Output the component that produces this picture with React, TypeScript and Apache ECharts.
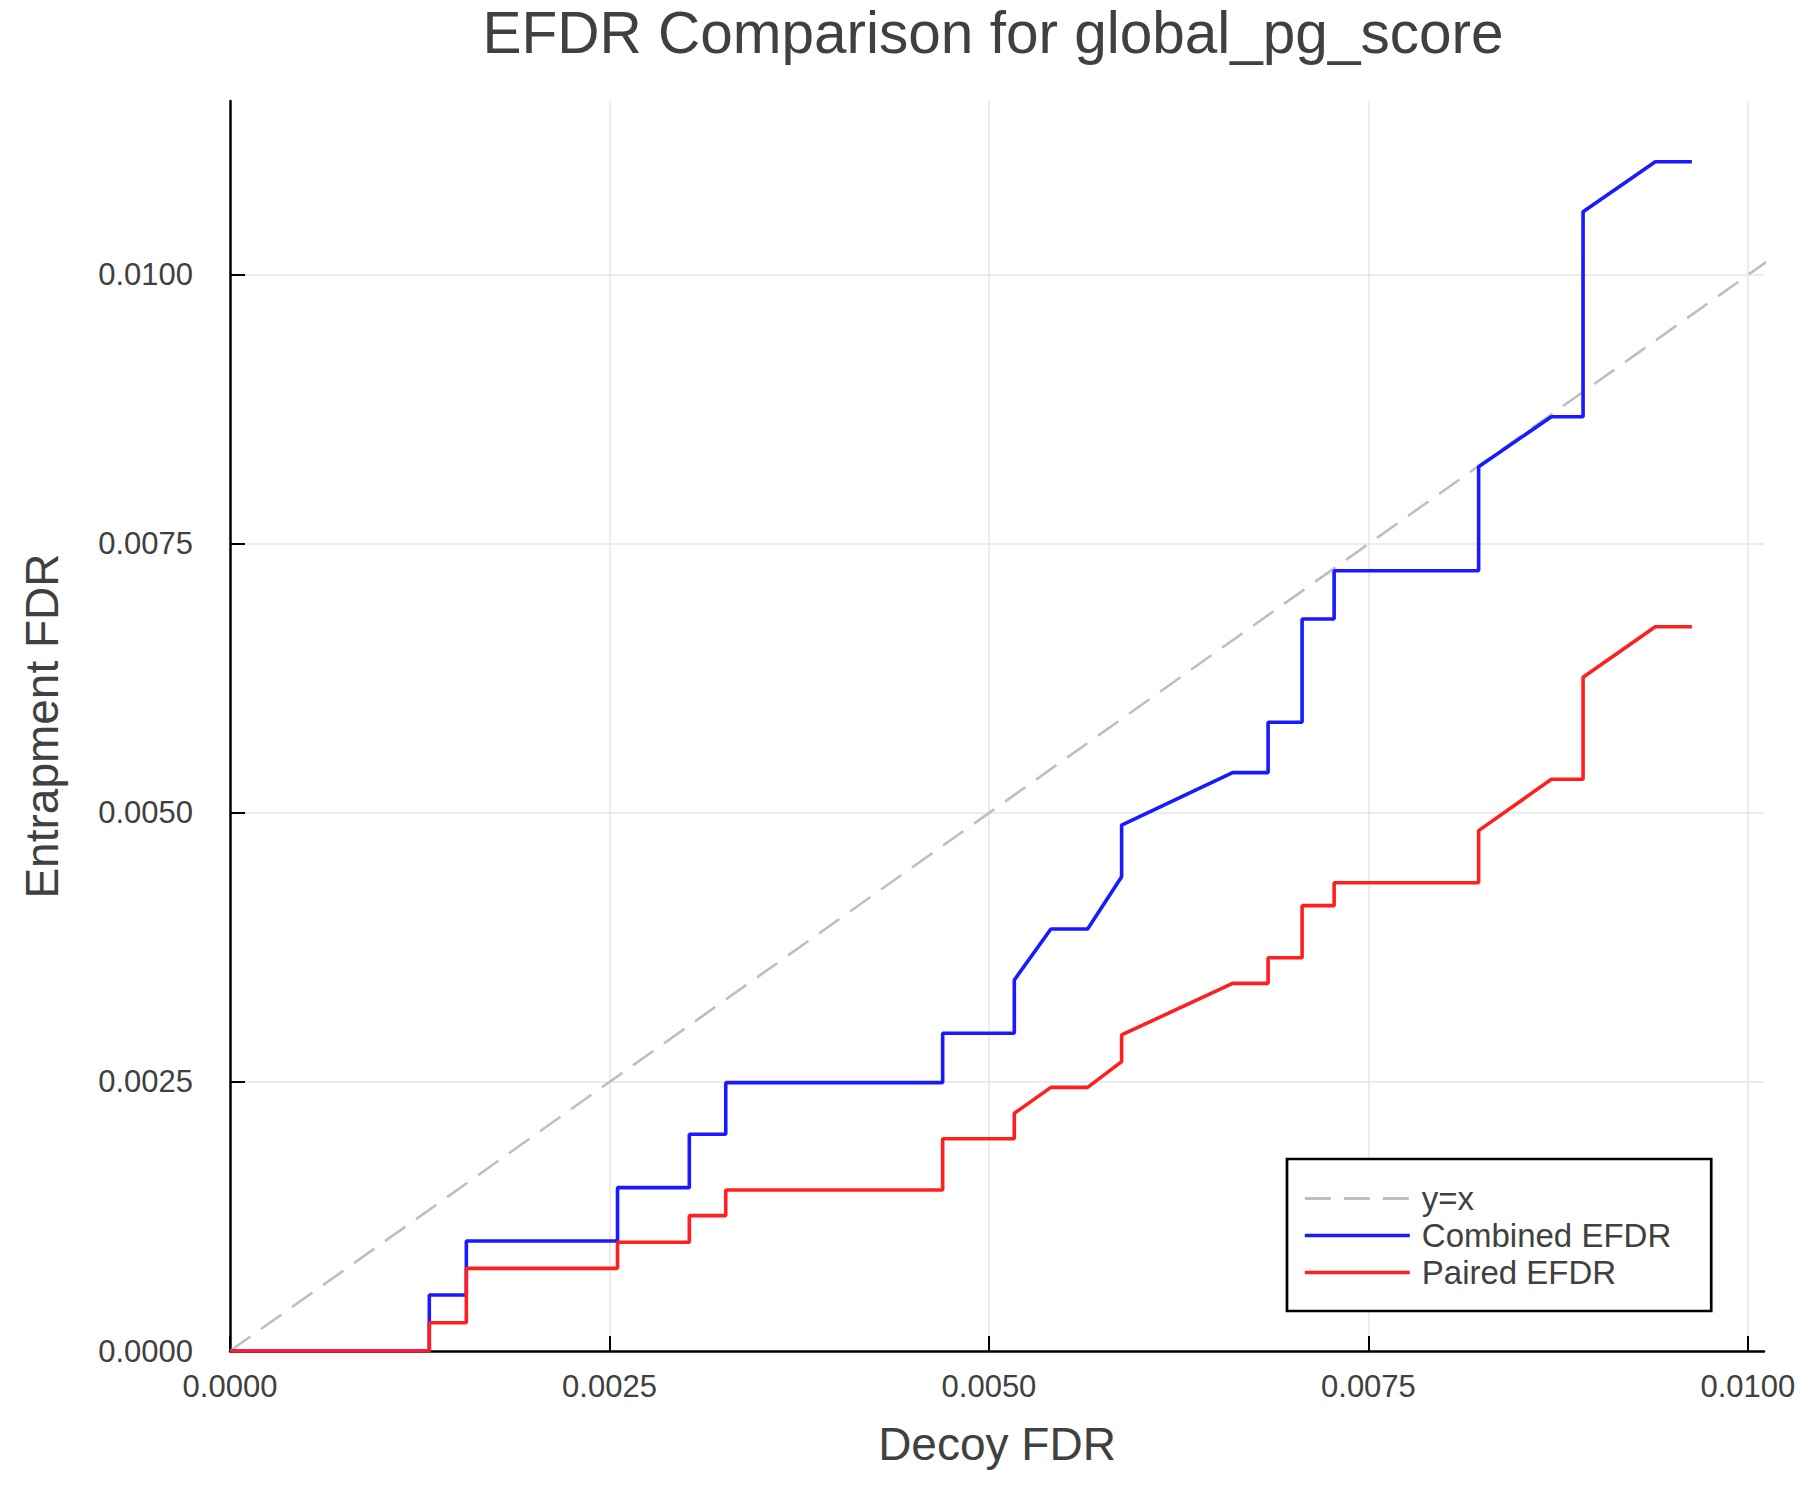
import { useEffect, useRef } from 'react';
import * as echarts from 'echarts';

// decoy FDR thresholds, shared by both curves
const decoyFdr = [
  0, 0.001313, 0.001313, 0.001557, 0.001557, 0.002553, 0.002553, 0.003026, 0.003026,
  0.003266, 0.003266, 0.004695, 0.004695, 0.005167, 0.005167, 0.005408, 0.00565,
  0.005874, 0.005874, 0.006605, 0.006839, 0.006839, 0.007063, 0.007063, 0.007274,
  0.007274, 0.008226, 0.008226, 0.008705, 0.008914, 0.008914, 0.00939, 0.009631,
];

const combinedEfdr = [
  0, 0, 0.00052, 0.00052, 0.001022, 0.001022, 0.001518, 0.001518, 0.002014,
  0.002014, 0.002494, 0.002494, 0.002953, 0.002953, 0.003448, 0.003922, 0.003922,
  0.004408, 0.004888, 0.005375, 0.005375, 0.005843, 0.005843, 0.006803, 0.006803,
  0.007252, 0.007252, 0.008218, 0.008683, 0.008683, 0.010588, 0.011053, 0.011053,
];

const pairedEfdr = [
  0, 0, 0.000263, 0.000263, 0.000768, 0.000768, 0.00101, 0.00101, 0.001258,
  0.001258, 0.001496, 0.001496, 0.001972, 0.001972, 0.002209, 0.00245, 0.00245,
  0.002689, 0.002937, 0.003417, 0.003417, 0.003655, 0.003655, 0.004139, 0.004139,
  0.004352, 0.004352, 0.004836, 0.005313, 0.005313, 0.006261, 0.006731, 0.006731,
];

const diagonal = [0, 0.0105];

const xTicks = [0, 0.0025, 0.005, 0.0075, 0.01];
const yTicks = [0, 0.0025, 0.005, 0.0075, 0.01];

const xMax = 0.010106;
const yMax = 0.011617;

const FONT = '"Liberation Sans", Arial, Helvetica, sans-serif';
const TEXT = '#404040';
const BLUE = '#1a1aff';
const RED = '#ff1f1f';
const GREY = '#bfbfbf';

export default function App() {
  const chartRef = useRef<HTMLDivElement>(null);

  useEffect(() => {
    if (!chartRef.current) return;
    const chart = echarts.init(chartRef.current, null, { renderer: 'svg' });

    const pairs = (ys: number[]) => decoyFdr.map((x, i) => [x, ys[i]]);

    const axisCommon = {
      type: 'value' as const,
      min: 0,
      interval: 0.0025,
      nameLocation: 'middle' as const,
      nameTextStyle: { fontSize: 46, color: TEXT, fontFamily: FONT },
      axisLine: { show: true, onZero: false, lineStyle: { color: '#000', width: 2.5 } },
      splitLine: { show: true, lineStyle: { color: '#e6e6e6', width: 1.5 } },
    };

    const option: echarts.EChartsOption = {
      animation: false,
      backgroundColor: '#fff',
      textStyle: { fontFamily: FONT },
      title: {
        text: 'EFDR Comparison for global_pg_score',
        left: 988,
        textAlign: 'center',
        top: -2,
        textStyle: { fontSize: 58.5, fontWeight: 'normal', color: TEXT, fontFamily: FONT },
      },
      grid: { left: 230, right: 36, top: 101, bottom: 149, containLabel: false },
      legend: {
        orient: 'vertical',
        left: 1287,
        top: 1159,
        padding: [21, 40, 20, 16],
        backgroundColor: '#fff',
        borderColor: '#000',
        borderWidth: 2.7,
        borderRadius: 0,
        itemWidth: 105,
        itemHeight: 4,
        itemGap: 0,
        itemStyle: { opacity: 0 },
        textStyle: {
          fontSize: 33,
          color: TEXT,
          fontFamily: FONT,
          lineHeight: 37,
          padding: [0, 0, 0, 7],
        },
        data: [
          { name: 'y=x', lineStyle: { color: GREY, width: 3, type: [26, 13] } },
          { name: 'Combined EFDR', lineStyle: { color: BLUE, width: 3.6, type: 'solid' } },
          { name: 'Paired EFDR', lineStyle: { color: RED, width: 3.6, type: 'solid' } },
        ],
      },
      xAxis: {
        ...axisCommon,
        max: xMax,
        name: 'Decoy FDR',
        nameGap: 70,
        axisTick: {
          show: true,
          inside: true,
          length: 15,
          customValues: xTicks,
          lineStyle: { color: '#000', width: 2 },
        },
        axisLabel: {
          fontSize: 31,
          color: TEXT,
          margin: 20,
          fontFamily: FONT,
          customValues: xTicks,
          formatter: (v: number) => v.toFixed(4),
        },
      },
      yAxis: {
        ...axisCommon,
        max: yMax,
        name: 'Entrapment FDR',
        nameGap: 165,
        nameRotate: 90,
        axisTick: {
          show: true,
          inside: true,
          length: 15,
          customValues: yTicks,
          lineStyle: { color: '#000', width: 2 },
        },
        axisLabel: {
          fontSize: 31,
          color: TEXT,
          margin: 37,
          fontFamily: FONT,
          customValues: yTicks,
          formatter: (v: number) => v.toFixed(4),
        },
      },
      series: [
        {
          name: 'y=x',
          type: 'line',
          symbol: 'none',
          clip: true,
          data: diagonal.map((v) => [v, v]),
          lineStyle: { color: GREY, width: 2.6, type: [25, 13] },
          itemStyle: { color: GREY },
        },
        {
          name: 'Combined EFDR',
          type: 'line',
          symbol: 'none',
          clip: true,
          data: pairs(combinedEfdr),
          lineStyle: { color: BLUE, width: 3.6 },
          itemStyle: { color: BLUE },
        },
        {
          name: 'Paired EFDR',
          type: 'line',
          symbol: 'none',
          clip: true,
          data: pairs(pairedEfdr),
          lineStyle: { color: RED, width: 3.6 },
          itemStyle: { color: RED },
        },
      ],
    };

    chart.setOption(option);

    return () => {
      chart.dispose();
    };
  }, []);

  return (
    <div
      ref={chartRef}
      style={{ position: 'absolute', left: 0, top: 0, width: '1800px', height: '1500px', background: '#fff' }}
    />
  );
}
